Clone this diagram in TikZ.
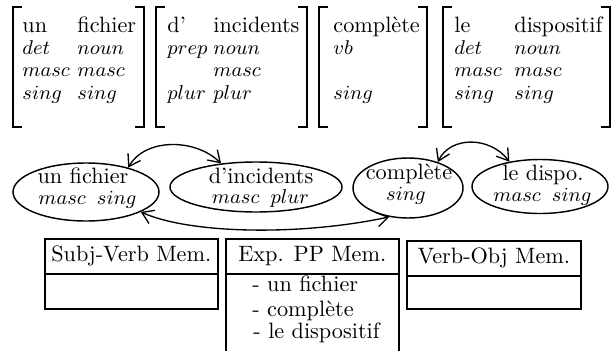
\documentclass[tikz,border=0pt]{standalone}
\usetikzlibrary{shapes.geometric,arrows.meta}
\newcommand\lbrk[3]{\draw[brk] (#1+9,#2) -- (#1,#2) -- (#1,#3) -- (#1+9,#3);}
\newcommand\rbrk[3]{\draw[brk] (#1-9,#2) -- (#1,#2) -- (#1,#3) -- (#1-9,#3);}
\newcommand\mi[1]{{\fontsize{9}{10}\selectfont$#1$}}
\begin{document}
\begin{tikzpicture}[x=0.45pt,y=-0.45pt,
  brk/.style={line width=0.85pt},
  ell/.style={draw,ellipse,line width=0.65pt,inner sep=0pt},
  lbl/.style={inner sep=0pt,anchor=base},
  lblw/.style={inner sep=0pt,anchor=base west},
  boxst/.style={draw,line width=0.7pt,rectangle,inner sep=0pt,minimum width=77.85pt,anchor=north west},
  arr/.style={line width=0.6pt,{Straight Barb[length=5pt,width=6.5pt]}-{Straight Barb[length=5pt,width=6.5pt]}}
]
\useasboundingbox (0,0) rectangle (616,350);
\clip (0,0) rectangle (616,350);
% brackets
\lbrk{13}{7}{127} \rbrk{144}{7}{127}
\lbrk{156}{7}{127} \rbrk{307}{7}{127}
\lbrk{319}{7}{127} \rbrk{427}{7}{127}
\lbrk{443}{7}{127} \rbrk{610}{7}{127}
% bracket 1
\node[lblw] (a1) at (22,33) {un};
\node[lblw] (a2) at (77,33) {fichier};
\node[lblw] (a3) at (22,55) {\mi{det}};
\node[lblw] (a4) at (77,55) {\mi{noun}};
\node[lblw] (a5) at (22,77) {\mi{masc}};
\node[lblw] (a6) at (77,77) {\mi{masc}};
\node[lblw] (a7) at (22,99) {\mi{sing}};
\node[lblw] (a8) at (77,99) {\mi{sing}};
% bracket 2
\node[lblw] (b1) at (167,33) {d'};
\node[lblw] (b2) at (213,33) {incidents};
\node[lblw] (b3) at (167,55) {\mi{prep}};
\node[lblw] (b4) at (213,55) {\mi{noun}};
\node[lblw] (b6) at (213,77) {\mi{masc}};
\node[lblw] (b7) at (167,99) {\mi{plur}};
\node[lblw] (b8) at (213,99) {\mi{plur}};
% bracket 3
\node[lblw] (c1) at (333,33) {complète};
\node[lblw] (c3) at (333,55) {\mi{vb}};
\node[lblw] (c7) at (333,99) {\mi{sing}};
% bracket 4
\node[lblw] (d1) at (454,33) {le};
\node[lblw] (d2) at (514,33) {dispositif};
\node[lblw] (d3) at (454,55) {\mi{det}};
\node[lblw] (d4) at (514,55) {\mi{noun}};
\node[lblw] (d5) at (454,77) {\mi{masc}};
\node[lblw] (d6) at (514,77) {\mi{masc}};
\node[lblw] (d7) at (454,99) {\mi{sing}};
\node[lblw] (d8) at (514,99) {\mi{sing}};
% ellipses
\node[ell,minimum width=65.7pt,minimum height=26.1pt] (e1) at (86,192) {};
\node[ell,minimum width=77.4pt,minimum height=22.5pt] (e2) at (256,187) {};
\node[ell,minimum width=49.5pt,minimum height=27pt] (e3) at (408,188) {};
\node[ell,minimum width=61.2pt,minimum height=24.3pt] (e4) at (540,186.5) {};
\node[lbl] (e1a) at (83,183) {un fichier};
\node[lbl] (e1b) at (87.5,204) {\mi{masc}\hspace{5pt}\mi{sing}};
\node[lbl] (e2a) at (261,183) {d'incidents};
\node[lbl] (e2b) at (260.5,203) {\mi{masc}\hspace{5pt}\mi{plur}};
\node[lbl] (e3a) at (409,179) {complète};
\node[lbl] (e3b) at (406,200) {\mi{sing}};
\node[lbl] (e4a) at (543,180) {le dispo.};
\node[lbl] (e4b) at (542.5,201) {\mi{masc}\hspace{5pt}\mi{sing}};
% arrows
\draw[arr] (e1.30) .. controls (145,138) and (195,138) .. (e2.146);
\draw[arr] (e3.41) .. controls (450,136) and (490,136) .. (e4.141);
\draw[arr] (e1.-20) .. controls (190,234) and (300,236) .. (e3.-123);
% memory boxes
\node[boxst,minimum height=15.75pt] (h1) at (44,238) {Subj-Verb Mem.};
\node[boxst,minimum height=15.75pt] (m1) at (44,273) {};
\node[boxst,minimum height=15.75pt] (h2) at (225,238) {Exp. PP Mem.};
\node[boxst,minimum height=45pt] (m2) at (225,273) {};
\node[boxst,minimum width=78.3pt,minimum height=15.75pt] (h3) at (406,240) {Verb-Obj Mem.};
\node[boxst,minimum width=78.3pt,minimum height=14.85pt] (m3) at (406,275) {};
\node[lblw] (l1) at (252,291) {- un fichier};
\node[lblw] (l2) at (252,316) {- complète};
\node[lblw] (l3) at (253,338) {- le dispositif};
\end{tikzpicture}
\end{document}
